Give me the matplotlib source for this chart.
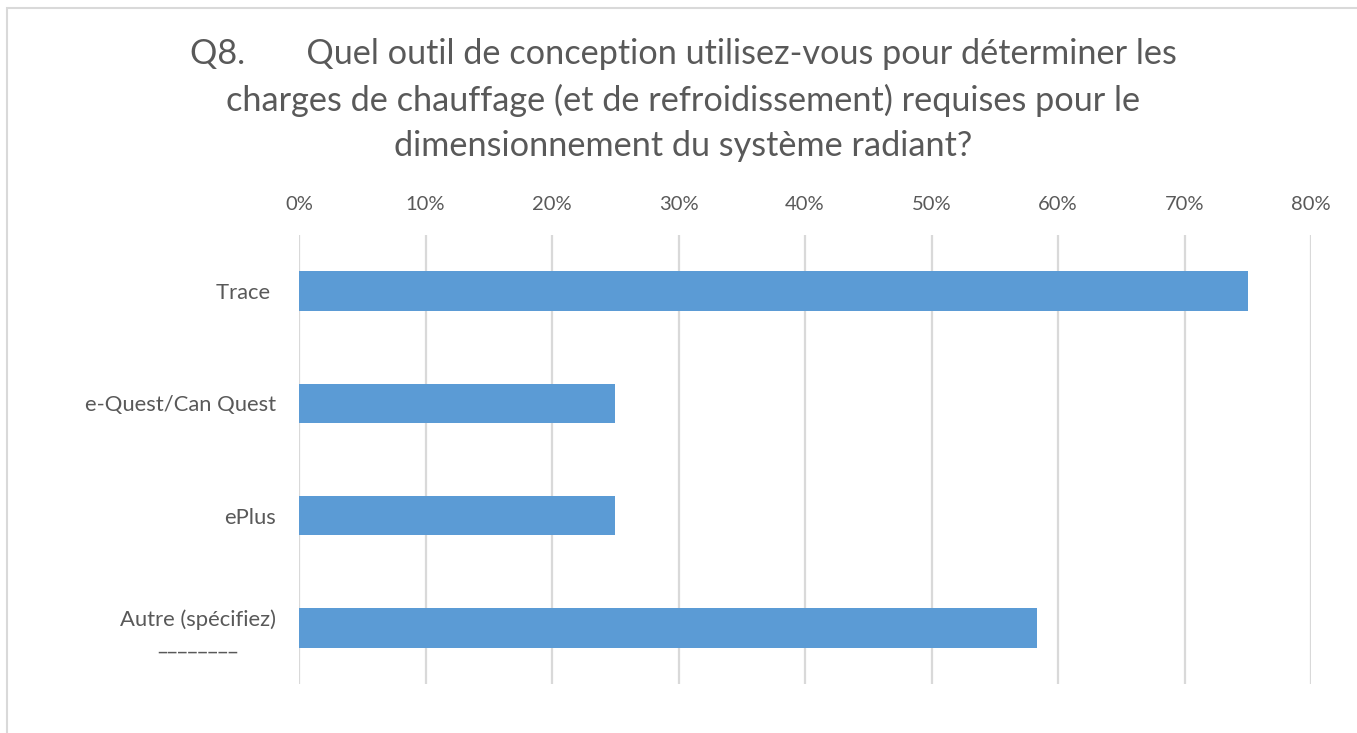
import matplotlib
matplotlib.use("Agg")
import matplotlib.pyplot as plt
from matplotlib.patches import Rectangle
from matplotlib.ticker import FuncFormatter

categories = ["Trace ", "e-Quest/Can Quest", "ePlus", "Autre (spécifiez)\n________"]
values = [75.0, 25.0, 25.0, 58.33]
xticks = [0, 10, 20, 30, 40, 50, 60, 70, 80]
title = ("Q8.       Quel outil de conception utilisez-vous pour déterminer les\n"
         "charges de chauffage (et de refroidissement) requises pour le\n"
         "dimensionnement du système radiant?")

plt.rcParams['font.family'] = ['Lato', 'DejaVu Sans']
txt = "#595959"

fig = plt.figure(figsize=(13.57, 7.33), dpi=100)
W, H = 1357, 733
ax = fig.add_axes([299 / W, 1 - 684 / H, (1311 - 299) / W, (684 - 235) / H])

y = list(range(len(categories)))
ax.barh(y, values, height=0.35, color="#5b9bd5", zorder=3)
ax.set_ylim(len(categories) - 0.5, -0.5)
ax.set_xlim(0, 80)
ax.set_xticks(xticks)
ax.xaxis.set_major_formatter(FuncFormatter(lambda v, p: f"{v:.0f}%"))
ax.xaxis.tick_top()
ax.set_yticks(y)
ax.set_yticklabels(categories, multialignment="center")
ax.tick_params(axis="x", length=0, pad=16, labelsize=14.5, labelcolor=txt)
ax.tick_params(axis="y", length=0, pad=16.5, labelsize=15.8, labelcolor=txt)
ax.grid(axis="x", color="#d9d9d9", linewidth=1.6, zorder=0)
for s in ax.spines.values():
    s.set_visible(False)

fig.text(0.5 + 5 / W, 1 - 100 / H, title, ha="center", va="center",
         fontsize=24.7, color=txt, linespacing=1.52)

fig.patches.append(Rectangle((7 / W, -0.05), 1.2, 1 - 8 / H + 0.05,
                             transform=fig.transFigure, fill=False,
                             edgecolor="#d9d9d9", linewidth=1.5))

fig.savefig("out.png", dpi=100, facecolor="white")
